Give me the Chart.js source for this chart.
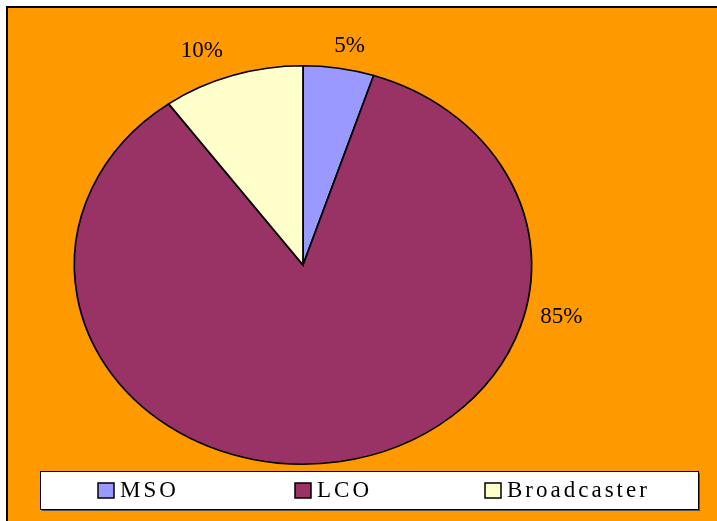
<!DOCTYPE html>
<html>
<head>
<meta charset="utf-8">
<script src="https://cdn.jsdelivr.net/npm/chart.js@4"></script>
<style>
  html, body { margin: 0; padding: 0; background: #ffffff; }
  #wrap { width: 717px; height: 521px; }
</style>
</head>
<body>
<div id="wrap"><canvas id="pie" width="717" height="521"></canvas></div>
<script>
// Répartition par type d'opérateur
const categories = ['MSO', 'LCO', 'Broadcaster'];
const shares = [5, 85, 10];
const sliceColors = ['#9999FF', '#993366', '#FFFFCC'];

const serif = '"Liberation Serif", "DejaVu Serif", serif';

// fond orange avec le cadre noir en haut et à gauche
const backdrop = {
    id: 'backdrop',
    beforeDraw(chart) {
        const ctx = chart.ctx;
        ctx.save();
        ctx.fillStyle = '#ffffff';
        ctx.fillRect(0, 0, chart.width, chart.height);
        ctx.fillStyle = '#FF9900';
        ctx.fillRect(7, 7, chart.width - 7, chart.height - 7);
        ctx.strokeStyle = '#000000';
        ctx.lineWidth = 2;
        ctx.beginPath();
        ctx.moveTo(7, chart.height);
        ctx.lineTo(7, 7);
        ctx.lineTo(chart.width, 7);
        ctx.stroke();
        ctx.restore();
    }
};

// étire le camembert horizontalement (ellipse)
const stretch = {
    id: 'stretch',
    beforeDatasetsDraw(chart, args, opts) {
        const arc = chart.getDatasetMeta(0).data[0];
        const ctx = chart.ctx;
        ctx.save();
        ctx.translate(arc.x, arc.y);
        ctx.scale(opts.sx, 1);
        ctx.translate(-arc.x, -arc.y);
    },
    afterDatasetsDraw(chart) {
        chart.ctx.restore();
    }
};

// étiquettes de pourcentage autour du camembert
const pctLabels = {
    id: 'pctLabels',
    afterDatasetsDraw(chart, args, opts) {
        const ctx = chart.ctx;
        const sx = chart.options.plugins.stretch.sx;
        const total = shares.reduce((a, b) => a + b, 0);
        ctx.save();
        ctx.font = '23px ' + serif;
        ctx.fillStyle = '#000000';
        ctx.textAlign = 'center';
        ctx.textBaseline = 'middle';
        chart.getDatasetMeta(0).data.forEach((arc, i) => {
            let a = (arc.startAngle + arc.endAngle) / 2;
            if (opts.angles[i] !== null) a = (opts.angles[i] - 90) * Math.PI / 180;
            const r = arc.outerRadius * opts.dist[i];
            const x = arc.x + Math.cos(a) * r * sx;
            const y = arc.y + Math.sin(a) * r;
            ctx.fillText(Math.round(shares[i] / total * 100) + '%', x, y);
        });
        ctx.restore();
    }
};

// légende encadrée en bas
const boxLegend = {
    id: 'boxLegend',
    afterDraw(chart, args, opts) {
        const ctx = chart.ctx;
        const b = opts.box;
        ctx.save();
        ctx.fillStyle = '#555555';
        ctx.fillRect(b.x + 2, b.y + 2, b.w, b.h);
        ctx.fillStyle = '#ffffff';
        ctx.fillRect(b.x, b.y, b.w, b.h);
        ctx.strokeStyle = '#000000';
        ctx.lineWidth = 1;
        ctx.strokeRect(b.x + 0.5, b.y + 0.5, b.w, b.h);
        ctx.font = '23px ' + serif;
        ctx.letterSpacing = opts.spacing;
        ctx.textBaseline = 'middle';
        ctx.textAlign = 'left';
        const ym = b.y + b.h / 2;
        chart.data.labels.forEach((lab, i) => {
            const x = opts.itemX[i];
            ctx.fillStyle = sliceColors[i];
            ctx.fillRect(x, ym - 7, 16, 15);
            ctx.strokeStyle = '#000000';
            ctx.lineWidth = 1.5;
            ctx.strokeRect(x, ym - 7, 16, 15);
            ctx.fillStyle = '#000000';
            ctx.fillText(lab, x + 22, ym + 1);
        });
        ctx.restore();
    }
};

new Chart(document.getElementById('pie'), {
    type: 'pie',
    data: {
        labels: categories,
        datasets: [{
            data: shares,
            backgroundColor: sliceColors,
            borderColor: '#000000',
            borderWidth: 1.5,
            borderJoinStyle: 'miter'
        }]
    },
    options: {
        responsive: false,
        animation: false,
        layout: { padding: { left: 103, right: 214, top: 65, bottom: 56 } },
        plugins: {
            legend: { display: false },
            tooltip: { enabled: false },
            stretch: { sx: 1.1475 },
            pctLabels: { angles: [10.5, 103, -22.4], dist: [1.12, 1.16, 1.16] },
            boxLegend: {
                box: { x: 40, y: 471, w: 658, h: 38 },
                itemX: [98, 295, 485],
                spacing: '3px'
            }
        }
    },
    plugins: [backdrop, stretch, pctLabels, boxLegend]
});
</script>
</body>
</html>
